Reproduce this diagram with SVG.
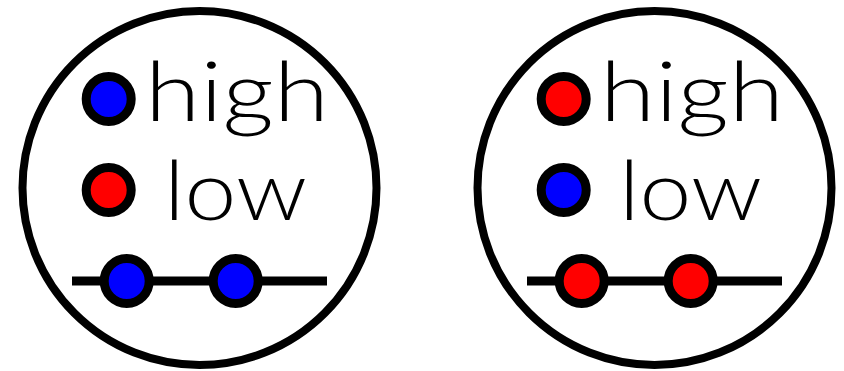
<svg xmlns="http://www.w3.org/2000/svg" width="844" height="371" viewBox="0 0 844 371">
<style>
.ring{fill:#fff;stroke:#000;stroke-width:8}
.dot{stroke:#000;stroke-width:9}
.blue{fill:#0000ff}
.red{fill:#ff0000}
.bar{stroke:#000;stroke-width:9;fill:none}
.lbl{font-family:Lato,"DejaVu Sans",sans-serif;font-weight:300;font-size:82px;fill:#000}
</style>
<rect width="844" height="371" fill="#fff"/>
<g id="left">
<circle class="ring" cx="199.5" cy="188" r="177"/>
<circle class="dot blue" cx="108.7" cy="99" r="22.5"/>
<text class="lbl" x="145" y="121" textLength="184" lengthAdjust="spacingAndGlyphs">high</text>
<circle class="dot red" cx="108.7" cy="190" r="22.5"/>
<text class="lbl" x="164" y="220" textLength="143" lengthAdjust="spacingAndGlyphs">low</text>
<line class="bar" x1="72" y1="281" x2="327" y2="281"/>
<circle class="dot blue" cx="126.7" cy="281" r="22.5"/>
<circle class="dot blue" cx="235.7" cy="281" r="22.5"/>
</g>
<g id="right">
<circle class="ring" cx="654.5" cy="188" r="177"/>
<circle class="dot red" cx="563.7" cy="99" r="22.5"/>
<text class="lbl" x="600" y="121" textLength="184" lengthAdjust="spacingAndGlyphs">high</text>
<circle class="dot blue" cx="563.7" cy="190" r="22.5"/>
<text class="lbl" x="619" y="220" textLength="143" lengthAdjust="spacingAndGlyphs">low</text>
<line class="bar" x1="527" y1="281" x2="782" y2="281"/>
<circle class="dot red" cx="581.7" cy="281" r="22.5"/>
<circle class="dot red" cx="690.7" cy="281" r="22.5"/>
</g>
</svg>
